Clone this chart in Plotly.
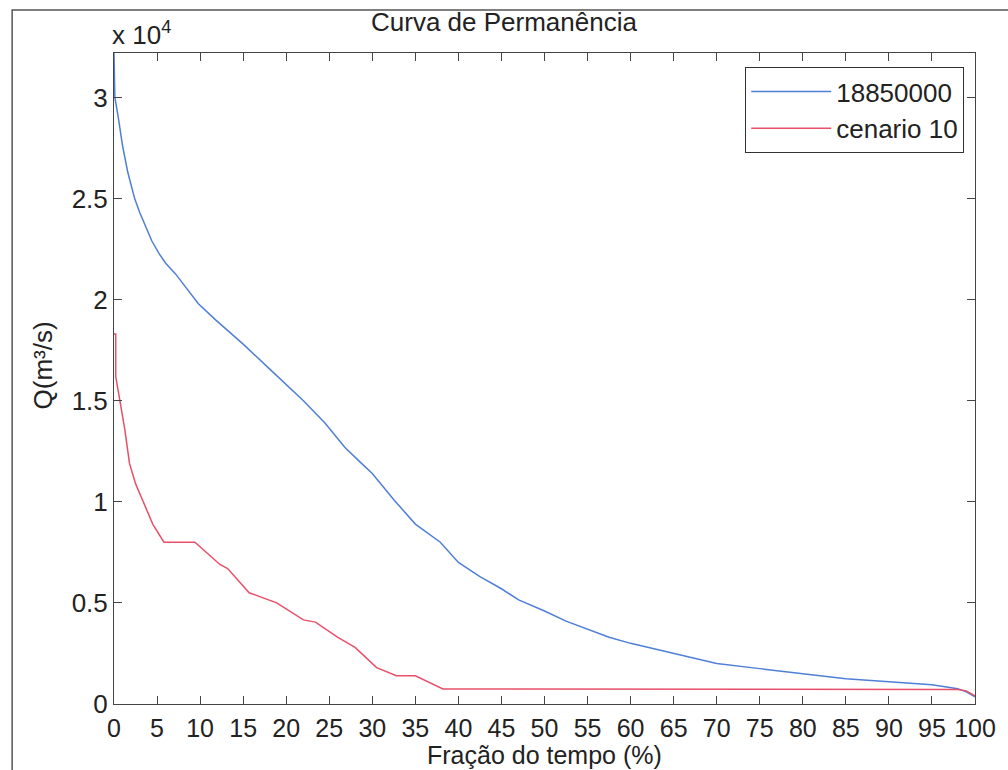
import plotly.graph_objects as go

# Flow duration curves
blue_x = [0, 0.1, 0.5, 1.0, 1.6, 2.4, 3.0, 3.7, 4.4, 5.2, 6.0, 7.1, 8.4, 9.8, 11.8, 15, 18, 22,
          24.5, 26.8, 28.5, 30, 32.5, 35, 37.9, 40, 42.5, 45, 47, 50, 52.5, 55, 57.5, 60, 65,
          70, 75, 80, 85, 90, 95, 98, 99, 100]
blue_y = [32200, 30000, 29000, 27600, 26300, 25000, 24300, 23600, 22900, 22300, 21800, 21300,
          20600, 19800, 19000, 17800, 16600, 15000, 13900, 12700, 12000, 11400, 10100, 8900,
          8000, 7000, 6300, 5700, 5150, 4600, 4100, 3700, 3300, 3000, 2500, 2000, 1750, 1500,
          1250, 1100, 950, 750, 600, 350]

red_x = [0, 0.2, 0.2, 0.7, 1.25, 1.8, 2.5, 3.3, 4.5, 5.8, 9.4, 12.3, 13.2, 15.7, 18.9, 22,
         23.4, 26, 28, 30.5, 32.8, 35, 36, 38.2, 98, 99, 100]
red_y = [18300, 18300, 16200, 15000, 13600, 11900, 10900, 10100, 8900, 8000, 8000, 6900,
         6700, 5500, 5000, 4160, 4050, 3300, 2800, 1800, 1400, 1400, 1200, 740, 720, 650, 400]

series_names = ["18850000", "cenario 10"]
x_ticks = list(range(0, 101, 5))
y_tickvals = [0, 5000, 10000, 15000, 20000, 25000, 30000]
y_ticktext = ["0", "0.5", "1", "1.5", "2", "2.5", "3"]

FONT = "Liberation Sans, Arial, sans-serif"

fig = go.Figure()
fig.add_trace(go.Scatter(x=blue_x, y=blue_y, mode="lines", name=series_names[0],
                         line=dict(color="#4f7fd6", width=1.5)))
fig.add_trace(go.Scatter(x=red_x, y=red_y, mode="lines", name=series_names[1],
                         line=dict(color="#e8506a", width=1.5)))

L, R, T, B = 114, 15, 53, 66
W, H = 1008, 770
pw, ph = W - L - R, H - T - B

def px(x):
    return (x - L) / pw

def py(y):
    return (H - B - y) / ph

fig.update_layout(
    width=W, height=H,
    margin=dict(l=L, r=R, t=T, b=B),
    paper_bgcolor="white", plot_bgcolor="white",
    font=dict(family=FONT, size=25, color="#222"),
    title=dict(text="Curva de Permanência", x=0.5, xanchor="center",
               y=1 - 22 / H, yanchor="middle", font=dict(size=26, color="#222")),
    showlegend=True,
    legend=dict(x=px(982), xanchor="right", y=py(67), yanchor="top",
                bordercolor="#333", borderwidth=1, bgcolor="white",
                font=dict(size=26), tracegroupgap=0, itemwidth=80),
    xaxis=dict(range=[0, 100], tickvals=x_ticks, ticks="inside", ticklen=8,
               tickcolor="#444", showline=True, linecolor="#444", linewidth=1,
               mirror="ticks", showgrid=False, zeroline=False,
               ticklabeloverflow="allow", ticklabelstandoff=2, tickfont=dict(size=25)),
    yaxis=dict(range=[0, 32200], tickvals=y_tickvals, ticktext=y_ticktext,
               ticks="inside", ticklen=8, tickcolor="#444", showline=True,
               linecolor="#444", linewidth=1, mirror="ticks", showgrid=False,
               zeroline=False, tickfont=dict(size=26)),
)

fig.add_annotation(text="Fração do tempo (%)", xref="paper", yref="paper",
                   x=0.5, y=py(755), xanchor="center", yanchor="middle",
                   showarrow=False, font=dict(size=25))
fig.add_annotation(text="Q(m³/s)", xref="paper", yref="paper",
                   x=px(42), y=py(365), xanchor="center", yanchor="middle",
                   textangle=-90, showarrow=False, font=dict(size=26))
fig.add_annotation(text="x 10<sup>4</sup>", xref="paper", yref="paper",
                   x=px(110), y=py(33), xanchor="left", yanchor="middle",
                   showarrow=False, font=dict(size=26))

# outer figure frame
fig.add_shape(type="rect", xref="paper", yref="paper",
              x0=px(10), x1=px(1030), y0=py(790), y1=py(10),
              line=dict(color="#555", width=1.5), fillcolor="rgba(0,0,0,0)", layer="below")

fig.write_html("out.html")
